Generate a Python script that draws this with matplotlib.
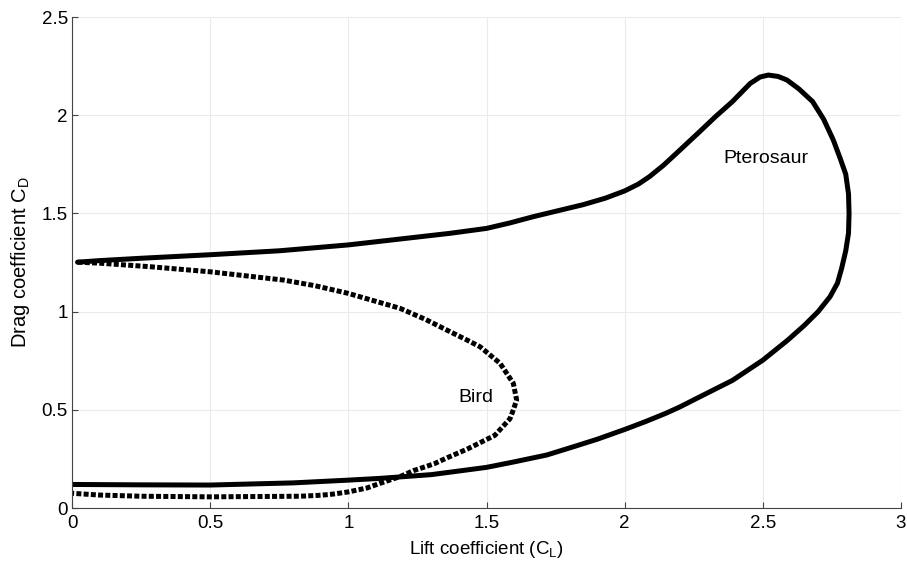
import matplotlib
matplotlib.use("Agg")
import matplotlib.pyplot as plt

# Pterosaur polar (closed loop)
ptero_cl = [0.02, 0.1, 0.25, 0.5, 0.75, 1.0, 1.2, 1.368, 1.5, 1.585, 1.67, 1.85, 1.93, 2.0, 2.05,
            2.09, 2.14, 2.19, 2.27, 2.33, 2.39, 2.454, 2.49, 2.52, 2.555, 2.587, 2.63, 2.68,
            2.72, 2.755, 2.78, 2.80, 2.81, 2.812, 2.81, 2.80, 2.785, 2.77, 2.743, 2.70, 2.65,
            2.59, 2.5, 2.39, 2.27, 2.2, 2.15, 2.075, 2.0, 1.9, 1.81, 1.718, 1.6, 1.5, 1.3,
            1.115, 1.0, 0.8, 0.5, 0.25, 0.0]
ptero_cd = [1.252, 1.26, 1.272, 1.29, 1.31, 1.34, 1.372, 1.399, 1.424, 1.452, 1.484, 1.545, 1.578, 1.615, 1.65,
            1.688, 1.745, 1.81, 1.915, 1.995, 2.07, 2.162, 2.195, 2.205, 2.198, 2.18, 2.135, 2.07,
            1.98, 1.874, 1.78, 1.70, 1.60, 1.50, 1.40, 1.31, 1.22, 1.145, 1.076, 1.0, 0.93,
            0.855, 0.753, 0.65, 0.565, 0.515, 0.483, 0.44, 0.40, 0.35, 0.31, 0.27, 0.235, 0.207, 0.17,
            0.151, 0.142, 0.128, 0.117, 0.118, 0.12]

# Bird polar
bird_cl = [0.02, 0.1, 0.282, 0.5, 0.765, 0.88, 1.0, 1.187, 1.28, 1.368, 1.43, 1.477, 1.549, 1.597,
           1.609, 1.597, 1.585, 1.53, 1.43, 1.356, 1.31, 1.235, 1.187, 1.115, 1.067, 1.0,
           0.945, 0.9, 0.825, 0.5, 0.25, 0.1, 0.0]
bird_cd = [1.252, 1.247, 1.229, 1.203, 1.161, 1.132, 1.093, 1.017, 0.96, 0.898, 0.855, 0.821, 0.737, 0.635,
           0.55, 0.50, 0.455, 0.37, 0.30, 0.255, 0.225, 0.19, 0.16, 0.126, 0.102, 0.082,
           0.071, 0.065, 0.06, 0.057, 0.06, 0.066, 0.075]

xticks = [0, 0.5, 1, 1.5, 2, 2.5, 3]
xticklabels = ["0", "0.5", "1", "1.5", "2", "2.5", "3"]
yticks = [0, 0.5, 1, 1.5, 2, 2.5]
yticklabels = ["0", "0.5", "1", "1.5", "2", "2.5"]

plt.rcParams['font.family'] = ['Liberation Sans', 'DejaVu Sans']

fig = plt.figure(figsize=(9.07, 5.71), dpi=100)
ax = fig.add_axes([0.0794, 0.1103, 0.914, 0.8597])

ax.plot(ptero_cl, ptero_cd, color='black', lw=3.6, solid_capstyle='round', solid_joinstyle='round')
ax.plot(bird_cl, bird_cd, color='black', lw=3.6, linestyle=(0, (1.0, 0.45)), dash_capstyle='butt')

ax.text(1.46, 0.565, "Bird", fontsize=14, ha='center', va='center')
ax.text(2.51, 1.78, "Pterosaur", fontsize=14, ha='center', va='center')

ax.set_xlim(0, 3)
ax.set_ylim(0, 2.5)
ax.set_xticks(xticks)
ax.set_xticklabels(xticklabels)
ax.set_yticks(yticks)
ax.set_yticklabels(yticklabels)
ax.tick_params(direction='in', length=4, width=0.8, labelsize=13.5, color='#444444')
ax.tick_params(axis='x', pad=5)
ax.tick_params(axis='y', pad=3)

ax.grid(True, color='#ebebeb', linewidth=0.8)
ax.set_axisbelow(True)
for s in ['top', 'right']:
    ax.spines[s].set_visible(False)
for s in ['left', 'bottom']:
    ax.spines[s].set_color('#444444')
    ax.spines[s].set_linewidth(0.8)

ax.set_xlabel(r"Lift coefficient ($\mathregular{C_L}$)", fontsize=13.5, labelpad=5)
ax.set_ylabel(r"Drag coefficient $\mathregular{C_D}$", fontsize=14.5, labelpad=7)

fig.savefig("out.png", dpi=100)
